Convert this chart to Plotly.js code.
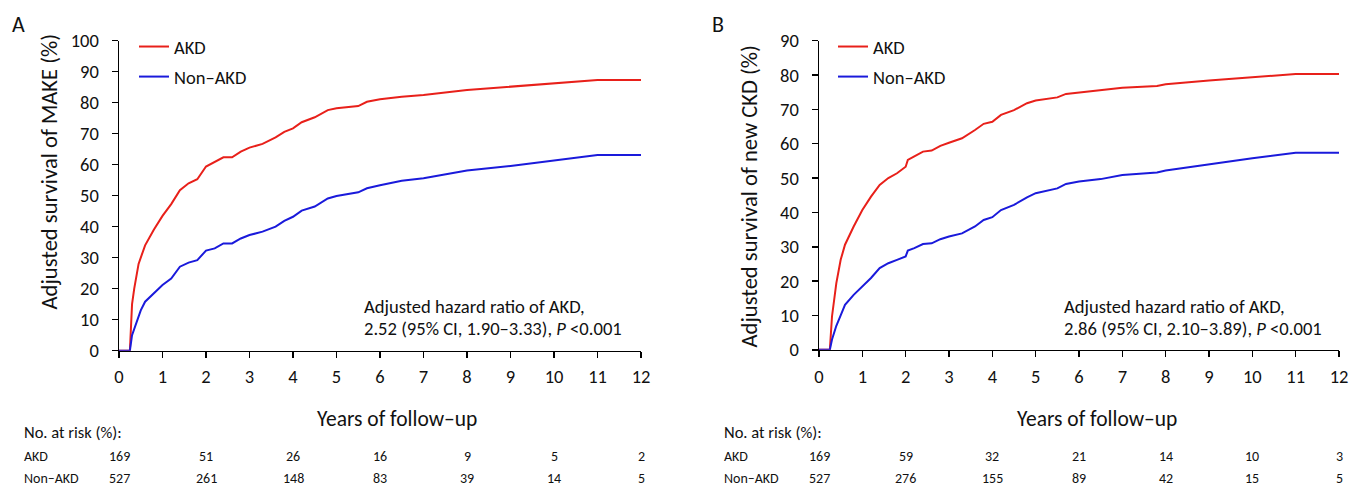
<!DOCTYPE html>
<html>
<head>
<meta charset="utf-8">
<script src="https://cdn.plot.ly/plotly-3.0.1.min.js"></script>
<style>html,body{margin:0;padding:0;background:#fff;}#chart{width:1349px;height:486px;}</style>
</head>
<body>
<div id="chart"></div>
<script>
// ---------- Data ----------
const yearsA = [0, 0.25, 0.3, 0.35, 0.45, 0.6, 0.8, 1.0, 1.2, 1.4, 1.6, 1.8, 2.0, 2.2, 2.4, 2.6, 2.8, 3.0, 3.3, 3.6, 3.8, 4.0, 4.2, 4.5, 4.8, 5.0, 5.5, 5.7, 6.0, 6.5, 7.0, 8.0, 9.0, 10.0, 11.0, 12.0];
const makeAKD = [0, 0, 15, 20, 28, 34, 39, 43.5, 47.3, 51.8, 54, 55.3, 59.4, 60.8, 62.4, 62.4, 64.2, 65.5, 66.7, 68.8, 70.6, 71.7, 73.7, 75.3, 77.6, 78.2, 78.9, 80.3, 81.1, 81.9, 82.5, 84.1, 85.2, 86.2, 87.3, 87.3];
const yearsA2 = [0, 0.25, 0.3, 0.4, 0.5, 0.6, 0.8, 1.0, 1.2, 1.4, 1.6, 1.8, 2.0, 2.2, 2.4, 2.6, 2.8, 3.0, 3.3, 3.6, 3.8, 4.0, 4.2, 4.5, 4.8, 5.0, 5.5, 5.7, 6.0, 6.5, 7.0, 8.0, 9.0, 10.0, 11.0, 12.0];
const makeNonAKD = [0, 0, 5, 9, 13, 15.8, 18.5, 21.2, 23.3, 27.1, 28.4, 29.2, 32.3, 33, 34.6, 34.6, 36.2, 37.3, 38.4, 40, 41.9, 43.2, 45.2, 46.5, 49.1, 49.9, 51.1, 52.4, 53.4, 54.8, 55.6, 58.1, 59.6, 61.3, 63.1, 63.1];

const yearsB = [0, 0.25, 0.3, 0.4, 0.5, 0.6, 0.8, 1.0, 1.2, 1.4, 1.6, 1.8, 2.0, 2.05, 2.2, 2.4, 2.6, 2.8, 3.0, 3.3, 3.6, 3.8, 4.0, 4.2, 4.5, 4.8, 5.0, 5.5, 5.7, 6.0, 6.5, 7.0, 7.8, 8.0, 9.0, 10.0, 11.0, 12.0];
const ckdAKD = [0, 0, 9.7, 19.4, 26.2, 30.6, 35.9, 40.7, 44.6, 48, 50, 51.4, 53.3, 55.3, 56.3, 57.7, 58, 59.4, 60.3, 61.6, 64, 65.8, 66.4, 68.4, 69.8, 71.8, 72.6, 73.5, 74.5, 74.9, 75.5, 76.3, 76.8, 77.3, 78.4, 79.3, 80.3, 80.3];
const ckdNonAKD = [0, 0, 3, 7, 10, 13.1, 16, 18.4, 20.9, 23.8, 25.2, 26.2, 27.2, 28.9, 29.6, 30.8, 31, 32.2, 33, 33.9, 35.9, 37.8, 38.6, 40.7, 42.2, 44.4, 45.6, 47, 48.3, 49, 49.7, 50.9, 51.6, 52.2, 54.1, 55.8, 57.4, 57.4];

const riskYears = [0, 2, 4, 6, 8, 10, 12];
const riskA_AKD = [169, 51, 26, 16, 9, 5, 2];
const riskA_Non = [527, 261, 148, 83, 39, 14, 5];
const riskB_AKD = [169, 59, 32, 21, 14, 10, 3];
const riskB_Non = [527, 276, 155, 89, 42, 15, 5];

const seriesNames = ["AKD", "Non–AKD"];
const colors = ["#e8201a", "#1a1adb"];
const yTitleA = "Adjusted survival of MAKE (%)";
const yTitleB = "Adjusted survival of new CKD (%)";
const xTitle = "Years of follow–up";
const hrA = ["Adjusted hazard ratio of AKD,", "2.52 (95% CI, 1.90–3.33), <i>P</i> <0.001"];
const hrB = ["Adjusted hazard ratio of AKD,", "2.86 (95% CI, 2.10–3.89), <i>P</i> <0.001"];

// ---------- Layout helpers ----------
const W = 1349, H = 486;
const FONT = "Carlito, Lato, 'Open Sans', sans-serif";
const INK = '#111';
const px = v => v / W;
const py = v => 1 - v / H;

const traces = [
  {x: yearsA, y: makeAKD, name: seriesNames[0], xaxis: 'x', yaxis: 'y', legend: 'legend', legendgroup: 'a1', mode: 'lines', line: {color: colors[0], width: 2}},
  {x: yearsA2, y: makeNonAKD, name: seriesNames[1], xaxis: 'x', yaxis: 'y', legend: 'legend', legendgroup: 'a2', mode: 'lines', line: {color: colors[1], width: 2}},
  {x: yearsB, y: ckdAKD, name: seriesNames[0], xaxis: 'x2', yaxis: 'y2', legend: 'legend2', legendgroup: 'b1', mode: 'lines', line: {color: colors[0], width: 2}},
  {x: yearsB, y: ckdNonAKD, name: seriesNames[1], xaxis: 'x2', yaxis: 'y2', legend: 'legend2', legendgroup: 'b2', mode: 'lines', line: {color: colors[1], width: 2}}
];

const axisCommon = {
  showgrid: false, zeroline: false, showline: true, linecolor: '#000', linewidth: 1.5,
  ticks: 'outside', ticklen: 6, tickwidth: 1.5, tickcolor: '#000',
  tickfont: {family: FONT, size: 18.5, color: INK}, fixedrange: true
};
const xAx = {dtick: 1, tick0: 0, range: [0, 12], ticklabelstandoff: 3};
const yAx = {dtick: 10, tick0: 0, ticklabelstandoff: 9};

const layout = {
  width: W, height: H,
  margin: {l: 0, r: 0, t: 0, b: 0},
  paper_bgcolor: '#fff', plot_bgcolor: '#fff',
  font: {family: FONT, color: INK},
  xaxis: Object.assign({}, axisCommon, xAx, {domain: [px(119), px(641)], anchor: 'y'}),
  yaxis: Object.assign({}, axisCommon, yAx, {domain: [py(350.7), py(40.7)], range: [0, 100], anchor: 'x'}),
  xaxis2: Object.assign({}, axisCommon, xAx, {domain: [px(819), px(1339)], anchor: 'y2'}),
  yaxis2: Object.assign({}, axisCommon, yAx, {domain: [py(349.8), py(40.7)], range: [0, 90], anchor: 'x2'}),
  showlegend: true,
  legend: {x: px(134), y: py(28), xanchor: 'left', yanchor: 'top', bgcolor: 'rgba(0,0,0,0)',
    font: {family: FONT, size: 18.5, color: INK}, tracegroupgap: 3, traceorder: 'grouped', itemclick: false},
  legend2: {x: px(833), y: py(28), xanchor: 'left', yanchor: 'top', bgcolor: 'rgba(0,0,0,0)',
    font: {family: FONT, size: 18.5, color: INK}, tracegroupgap: 3, traceorder: 'grouped', itemclick: false},
  annotations: []
};

function note(text, x, y, size, opts) {
  layout.annotations.push(Object.assign({text: text, xref: 'paper', yref: 'paper', x: px(x), y: py(y),
    xanchor: 'left', yanchor: 'middle', showarrow: false, font: {family: FONT, size: size, color: INK}}, opts || {}));
}

function addPanel(off, xref, label, yTitle, yTitleY, hr, riskAKD, riskNon) {
  note(label, 18 + off, 24, 22, {xanchor: 'center'});
  note(yTitle, 48 + off, yTitleY, 22.6, {xanchor: 'center', textangle: -90});
  note(xTitle, 396.5 + off, 419, 21.5, {xanchor: 'center'});
  note(hr[0], 362 + off, 306.7, 18.6);
  note(hr[1], 362 + off, 328.5, 18.6);
  note('No. at risk (%):', 22 + off, 432, 16.5);
  note(seriesNames[0], 22 + off, 456, 14);
  note(seriesNames[1], 22 + off, 478.5, 14);
  riskYears.forEach((yr, i) => {
    layout.annotations.push({text: String(riskAKD[i]), xref: xref, yref: 'paper', x: yr, y: py(456), xanchor: 'center', yanchor: 'middle',
      showarrow: false, font: {family: FONT, size: 14, color: INK}});
    layout.annotations.push({text: String(riskNon[i]), xref: xref, yref: 'paper', x: yr, y: py(478.5), xanchor: 'center', yanchor: 'middle',
      showarrow: false, font: {family: FONT, size: 14, color: INK}});
  });
}
addPanel(0, 'x', 'A', yTitleA, 171.5, hrA, riskA_AKD, riskA_Non);
addPanel(700, 'x2', 'B', yTitleB, 196.5, hrB, riskB_AKD, riskB_Non);

Plotly.newPlot('chart', traces, layout, {displayModeBar: false, staticPlot: true});
</script>
</body>
</html>
